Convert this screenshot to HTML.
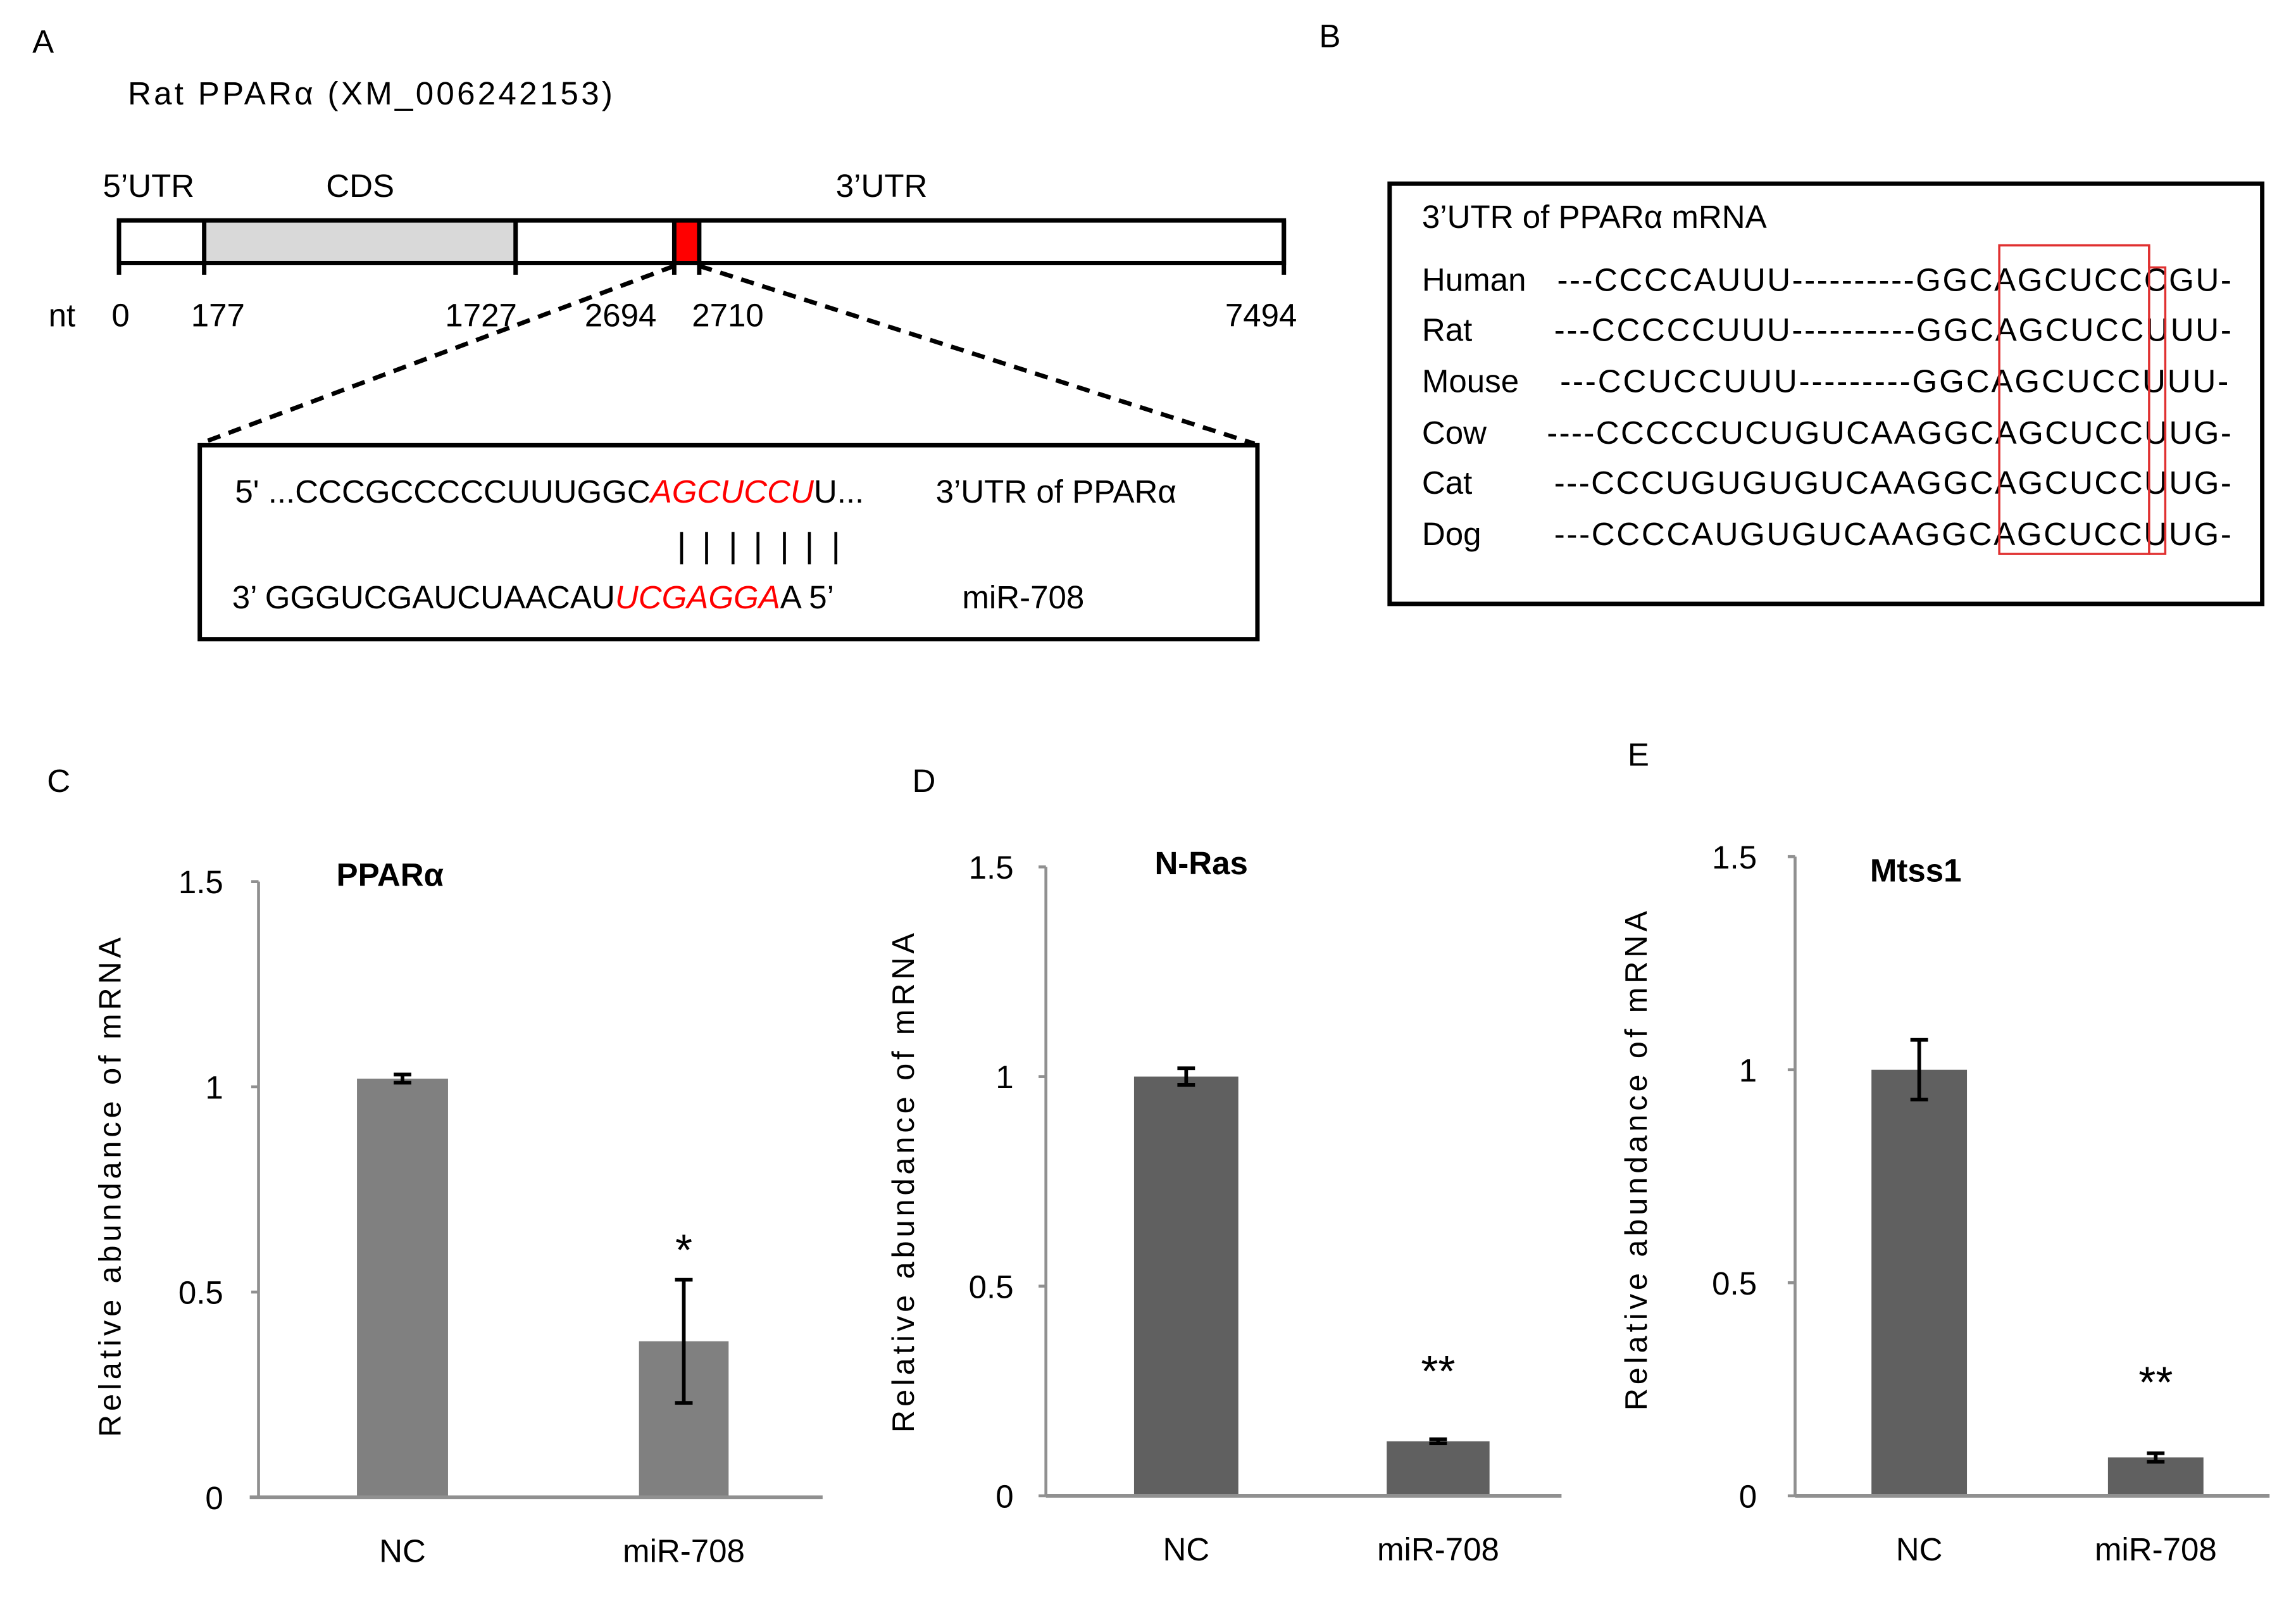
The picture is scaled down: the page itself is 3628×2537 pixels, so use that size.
<!DOCTYPE html>
<html><head><meta charset="utf-8"><style>
html,body{margin:0;padding:0;background:#fff;}
svg{display:block;font-family:"Liberation Sans",sans-serif;}
</style></head><body>
<svg id="fig" width="3628" height="2537" viewBox="0 0 1563 1093" preserveAspectRatio="none" xmlns="http://www.w3.org/2000/svg">
<rect width="1563" height="1093" fill="#fff"/>
<g font-size="22" fill="#000">
<text x="22" y="36">A</text>
<text x="87" y="71" textLength="330">Rat PPARα (XM_006242153)</text>
<text x="70" y="134">5’UTR</text>
<text x="222" y="134">CDS</text>
<text x="569" y="134">3’UTR</text>
<rect x="139" y="151" width="212" height="27" fill="#d9d9d9"/>
<rect x="459" y="151" width="17" height="27" fill="#ff0000"/>
<rect x="81" y="150" width="793" height="29" fill="none" stroke="#000" stroke-width="3"/>
<g stroke="#000" stroke-width="3">
<line x1="81" y1="150" x2="81" y2="187"/><line x1="139" y1="150" x2="139" y2="187"/><line x1="351" y1="150" x2="351" y2="187"/>
<line x1="459" y1="150" x2="459" y2="187"/><line x1="476" y1="150" x2="476" y2="187"/><line x1="874" y1="150" x2="874" y2="187"/>
</g>
<g>
<text x="33" y="222">nt</text><text x="76" y="222">0</text><text x="130" y="222">177</text>
<text x="303" y="222">1727</text><text x="398" y="222">2694</text><text x="471" y="222">2710</text><text x="834" y="222">7494</text>
</g>
<g stroke="#000" stroke-width="3" stroke-dasharray="9,6">
<line x1="459" y1="181" x2="136" y2="302"/><line x1="476" y1="181" x2="854" y2="302"/>
</g>
<rect x="136" y="303" width="720" height="132" fill="none" stroke="#000" stroke-width="3"/>
<text x="160" y="342">5' ...CCCGCCCCCUUUGGC<tspan fill="#ff0000" font-style="italic">AGCUCCU</tspan>U...</text>
<text x="637" y="342">3’UTR of PPARα</text>
<g stroke="#000" stroke-width="2">
<line x1="464" y1="362" x2="464" y2="384"/><line x1="481" y1="362" x2="481" y2="384"/><line x1="499" y1="362" x2="499" y2="384"/><line x1="516" y1="362" x2="516" y2="384"/><line x1="534" y1="362" x2="534" y2="384"/><line x1="551" y1="362" x2="551" y2="384"/><line x1="569" y1="362" x2="569" y2="384"/>
</g>
<text x="158" y="414">3’ GGGUCGAUCUAACAU<tspan fill="#ff0000" font-style="italic">UCGAGGA</tspan>A   5’</text>
<text x="655" y="414">miR-708</text>
</g>
<g font-size="22" fill="#000">
<text x="898" y="32">B</text>
<rect x="946" y="125" width="594" height="286" fill="none" stroke="#000" stroke-width="3"/>
<text x="968" y="155">3’UTR of PPARα mRNA</text>
<g>
<text x="968" y="198">Human</text><text x="968" y="232">Rat</text><text x="968" y="267">Mouse</text>
<text x="968" y="302">Cow</text><text x="968" y="336">Cat</text><text x="968" y="371">Dog</text>
</g>
<g>
<text x="1060" y="198" textLength="459">---CCCCAUUU----------GGCAGCUCCCGU-</text>
<text x="1058" y="232" textLength="461">---CCCCCUUU----------GGCAGCUCCUUU-</text>
<text x="1062" y="267" textLength="455">---CCUCCUUU---------GGCAGCUCCUUU-</text>
<text x="1053" y="302" textLength="466">----CCCCCUCUGUCAAGGCAGCUCCUUG-</text>
<text x="1058" y="336" textLength="461">---CCCUGUGUGUCAAGGCAGCUCCUUG-</text>
<text x="1058" y="371" textLength="461">---CCCCAUGUGUCAAGGCAGCUCCUUG-</text>
</g>
<rect x="1361" y="167" width="102" height="210" fill="none" stroke="#e03030" stroke-width="1.5"/>
<polyline points="1463,167 1463,182 1474,182 1474,377 1463,377" fill="none" stroke="#e03030" stroke-width="1.5"/>
</g>
<g id="charts"></g>
</svg>
<script>
const categories = ["NC", "miR-708"];
const pparValues = [1.02, 0.38];
const pparErrors = [0.01, 0.15];
const nrasValues = [1.0, 0.13];
const nrasErrors = [0.02, 0.005];
const mtssValues = [1.0, 0.09];
const mtssErrors = [0.07, 0.01];
const significance = [["", "*"], ["", "**"], ["", "**"]];
const yTicks = [0, 0.5, 1, 1.5];
const yTickLabels = ["0", "0.5", "1", "1.5"];
const titles = ["PPARα", "N-Ras", "Mtss1"];
const panelLabels = ["C", "D", "E"];

const NS = "http://www.w3.org/2000/svg";
function mk(tag, attrs, parent) {
  const e = document.createElementNS(NS, tag);
  for (const k in attrs) e.setAttribute(k, attrs[k]);
  parent.appendChild(e);
  return e;
}
const layouts = [
  {ax:176, x0:170, x1:560, top:600, zero:1019, bars:[[243,305],[435,496]], color:"#808080", tickX:152, ytX:82, ytY:808, titleX:229, titleY:603, label:[32,539], catY:1063, starOff:10},
  {ax:712, x0:712, x1:1063, top:590, zero:1018, bars:[[772,843],[944,1014]], color:"#606060", tickX:690, ytX:622, ytY:805, titleX:786, titleY:595, label:[621,539], catY:1062, starOff:36},
  {ax:1222, x0:1222, x1:1545, top:583, zero:1018, bars:[[1274,1339],[1435,1500]], color:"#606060", tickX:1196, ytX:1121, ytY:790, titleX:1273, titleY:600, label:[1108,521], catY:1062, starOff:38}
];
const series = [[pparValues, pparErrors], [nrasValues, nrasErrors], [mtssValues, mtssErrors]];
const root = document.getElementById("charts");
layouts.forEach((L, ci) => {
  const g = mk("g", {}, root);
  
  
  const y = v => L.zero - (v / 1.5) * (L.zero - L.top);
  const pl = mk("text", {x:L.label[0], y:L.label[1], "font-size":22}, g);
  pl.textContent = panelLabels[ci];
  
  
  const t = mk("text", {x:L.titleX, y:L.titleY, "font-size":22, "font-weight":"bold"}, g);
  t.textContent = titles[ci];
  
  
  const yt = mk("text", {x:0, y:0, "font-size":21, "text-anchor":"middle", transform:`translate(${L.ytX},${L.ytY}) rotate(-90)`, textLength:340}, g);
  yt.textContent = "Relative abundance of mRNA";
  
  
  const yaxis = mk("line", {x1:L.ax, y1:L.top, x2:L.ax, y2:L.zero, stroke:"#909090", "stroke-width":2}, g);
  
  
  yTicks.forEach((v, i) => {
    mk("line", {x1:L.ax-5, y1:y(v), x2:L.ax, y2:y(v), stroke:"#909090", "stroke-width":2}, g);
    const tl = mk("text", {x:L.tickX, y:y(v)+8, "font-size":22, "text-anchor":"end"}, g);
    tl.textContent = yTickLabels[i];
    
    
  });
  const vals = series[ci][0], errs = series[ci][1];
  vals.forEach((v, i) => {
    const [bx0, bx1] = L.bars[i];
    const b = mk("rect", {x:bx0, y:y(v), width:bx1-bx0, height:L.zero-y(v), fill:L.color}, g);
    
    
    const cx = (bx0 + bx1) / 2;
    const eg = mk("g", {stroke:"#000", "stroke-width":2.5}, g);
    
    
    mk("line", {x1:cx, y1:y(v+errs[i]), x2:cx, y2:y(v-errs[i])}, eg);
    mk("line", {x1:cx-6, y1:y(v+errs[i]), x2:cx+6, y2:y(v+errs[i])}, eg);
    mk("line", {x1:cx-6, y1:y(v-errs[i]), x2:cx+6, y2:y(v-errs[i])}, eg);
    if (significance[ci][i]) {
      const s = mk("text", {x:cx, y:y(v+errs[i])-L.starOff, "font-size":30, "text-anchor":"middle"}, g);
      s.textContent = significance[ci][i];
      
      
    }
    const cl = mk("text", {x:cx, y:L.catY, "font-size":22, "text-anchor":"middle"}, g);
    cl.textContent = categories[i];
    
    
  });
  const xaxis = mk("line", {x1:L.x0, y1:L.zero, x2:L.x1, y2:L.zero, stroke:"#909090", "stroke-width":2.5}, g);
  
  
});
</script>
</body></html>
